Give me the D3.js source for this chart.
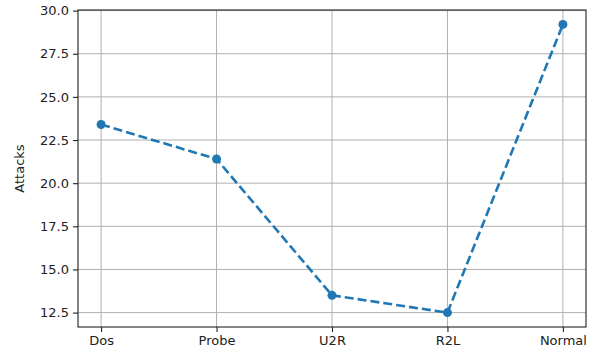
<!DOCTYPE html>
<html>
<head>
<meta charset="utf-8">
<script src="https://cdn.jsdelivr.net/npm/d3@7"></script>
<style>
  html, body { margin: 0; padding: 0; background: #fff; }
  svg { display: block; font-family: "DejaVu Sans", sans-serif; }
</style>
</head>
<body>
<script>
// Attack counts per traffic category
const categories = ["Dos", "Probe", "U2R", "R2L", "Normal"];
const attacks = [23.4, 21.4, 13.5, 12.5, 29.2];
const yTicks = [12.5, 15.0, 17.5, 20.0, 22.5, 25.0, 27.5, 30.0];

const W = 595, H = 356;
const m = { left: 78, right: 9, top: 10, bottom: 29 };
const iw = W - m.left - m.right, ih = H - m.top - m.bottom;

const svg = d3.select("body").append("svg").attr("width", W).attr("height", H);
const g = svg.append("g").attr("transform", `translate(${m.left},${m.top})`);

// categorical positions with 0.2-step padding on each side
const x = d3.scalePoint().domain(categories).range([0, iw]).padding(0.2);
const lo = d3.min(attacks), hi = d3.max(attacks), pad = (hi - lo) * 0.05;
const y = d3.scaleLinear().domain([lo - pad, hi + pad]).range([ih, 0]);

// grid
g.append("g").selectAll("line").data(categories).join("line")
  .attr("x1", d => x(d)).attr("x2", d => x(d)).attr("y1", 0).attr("y2", ih)
  .attr("stroke", "#b0b0b0").attr("stroke-width", 1);
g.append("g").selectAll("line").data(yTicks).join("line")
  .attr("x1", 0).attr("x2", iw).attr("y1", d => y(d)).attr("y2", d => y(d))
  .attr("stroke", "#b0b0b0").attr("stroke-width", 1);

// axes
const xAxis = g.append("g").attr("transform", `translate(0,${ih})`)
  .call(d3.axisBottom(x).tickSize(5).tickPadding(4));
const yAxis = g.append("g")
  .call(d3.axisLeft(y).tickValues(yTicks).tickFormat(d3.format(".1f")).tickSize(5).tickPadding(4));
[xAxis, yAxis].forEach(a => {
  a.select(".domain").remove();
  a.selectAll("text").attr("font-size", 13).attr("fill", "#222").attr("font-family", "DejaVu Sans, sans-serif");
  a.selectAll("line").attr("stroke", "#222").attr("stroke-width", 1.1);
});

// frame
g.append("rect").attr("width", iw).attr("height", ih)
  .attr("fill", "none").attr("stroke", "#222").attr("stroke-width", 1.1);

// series
g.append("path").datum(attacks)
  .attr("d", d3.line().x((d, i) => x(categories[i])).y(d => y(d)))
  .attr("fill", "none").attr("stroke", "#1f77b4").attr("stroke-width", 2.6)
  .attr("stroke-dasharray", "9,4");
g.append("g").selectAll("circle").data(attacks).join("circle")
  .attr("cx", (d, i) => x(categories[i])).attr("cy", d => y(d)).attr("r", 4.5)
  .attr("fill", "#1f77b4");

// y label
svg.append("text")
  .attr("transform", `translate(24,${m.top + ih / 2}) rotate(-90)`)
  .attr("text-anchor", "middle").attr("font-size", 13).attr("fill", "#222")
  .text("Attacks");
</script>
</body>
</html>
